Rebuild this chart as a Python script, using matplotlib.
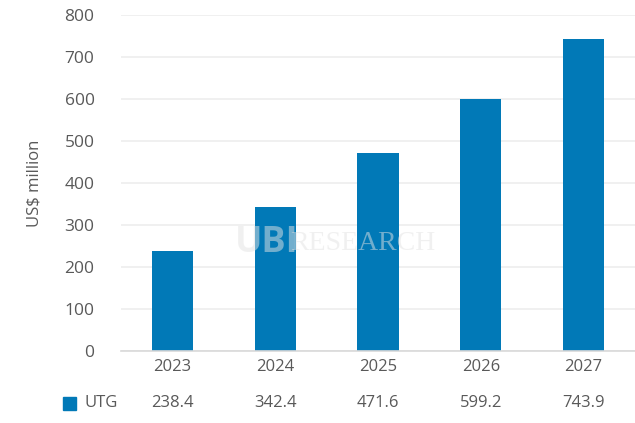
import matplotlib
matplotlib.use("Agg")
import matplotlib.pyplot as plt
from matplotlib.patches import Rectangle

years = ["2023", "2024", "2025", "2026", "2027"]
utg = [238.4, 342.4, 471.6, 599.2, 743.9]
yticks = [0, 100, 200, 300, 400, 500, 600, 700, 800]
series_name = "UTG"

bar_color = "#0179B7"
text_color = "#595959"

plt.rcParams['font.family'] = ['Open Sans', 'DejaVu Sans']

fig = plt.figure(figsize=(6.35, 4.23), dpi=100)
ax = fig.add_axes([121/635, (423-351)/423, 514/635, (351-15)/423])

x = list(range(len(years)))
ax.bar(x, utg, width=0.4, color=bar_color, zorder=2)
ax.set_xlim(-0.5, len(years) - 0.5)
ax.set_ylim(0, 800)
ax.set_yticks(yticks)
ax.set_yticklabels([str(v) for v in yticks])
ax.set_xticks(x)
ax.set_xticklabels(years)
ax.tick_params(axis='y', length=0, pad=19, labelsize=12.5, labelcolor=text_color)
ax.tick_params(axis='x', length=0, pad=6, labelsize=12, labelcolor=text_color)
ax.grid(axis='y', color='#EDEDED', linewidth=1.2, zorder=0)
ax.set_axisbelow(True)
for s in ['top', 'right', 'left']:
    ax.spines[s].set_visible(False)
ax.spines['bottom'].set_color('#D9D9D9')
ax.spines['bottom'].set_linewidth(1.2)
ax.set_ylabel("US$ million", fontsize=12, color=text_color, labelpad=16)

# data table row
ty = 1 - 403/423
fig.patches.append(Rectangle((63/635, 1 - 410/423), 13/635, 13/423,
                             transform=fig.transFigure, color=bar_color))
fig.text(84/635, ty, series_name, fontsize=12, color=text_color, va='center', ha='left')
for i, v in enumerate(utg):
    xf = ax.transData.transform((i, 0))[0]
    fig.text(xf / 635, ty, f"{v:.1f}", fontsize=12, color=text_color,
             va='center', ha='center')

# watermark
fig.text(235/635, 1 - 243/423, "UBI", fontsize=26, fontweight='bold', color='#E3E3E3',
         alpha=0.5, va='center', ha='left', zorder=5)
fig.text(290/635, 1 - 243/423, "RESEARCH", fontsize=20, family='Liberation Serif',
         color='#E3E3E3', alpha=0.5, va='center', ha='left', zorder=5)

fig.savefig("out.png", dpi=100)
